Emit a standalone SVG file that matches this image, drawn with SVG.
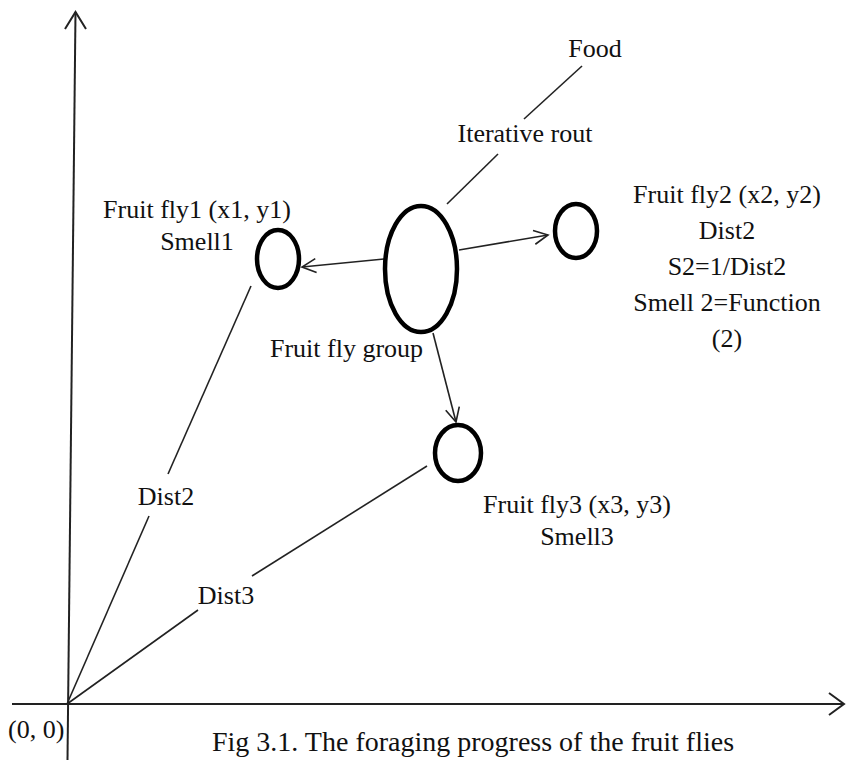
<svg xmlns="http://www.w3.org/2000/svg" width="846" height="760" viewBox="0 0 846 760">
<defs>
<style>
text{font-family:"Liberation Serif","Times New Roman",serif;font-size:26px;fill:#111}
.c{text-anchor:middle}
.ax{stroke:#222;stroke-width:2;fill:none}
.ln{stroke:#222;stroke-width:1.6;fill:none}
.node{stroke:#000;stroke-width:4.5;fill:#fff}
</style>
<marker id="arr" markerUnits="userSpaceOnUse" markerWidth="18" markerHeight="18" viewBox="0 0 18 18" refX="16" refY="9" orient="auto">
<path d="M2,2 L16,9 L2,16" fill="none" stroke="#222" stroke-width="1.6"/>
</marker>
</defs>
<rect width="846" height="760" fill="#fff"/>
<g id="axes">
<line class="ax" x1="75.5" y1="12" x2="67.5" y2="760"/>
<path class="ax" d="M65,29 L75.5,12 L86,29"/>
<line class="ax" x1="12" y1="704" x2="844" y2="704"/>
<path class="ax" d="M829,693 L844,704 L829,715"/>
<text x="8" y="738">(0, 0)</text>
</g>
<g id="connectors">
<line class="ln" x1="67" y1="704" x2="149" y2="516"/>
<line class="ln" x1="168" y1="474" x2="251" y2="286"/>
<line class="ln" x1="67" y1="704" x2="198" y2="610"/>
<line class="ln" x1="252" y1="576" x2="427" y2="466"/>
<line class="ln" x1="447" y1="204" x2="498" y2="154"/>
<line class="ln" x1="524" y1="119" x2="582" y2="66"/>
<line class="ln" x1="384" y1="259" x2="302" y2="267" marker-end="url(#arr)"/>
<line class="ln" x1="459" y1="250" x2="548" y2="235" marker-end="url(#arr)"/>
<line class="ln" x1="433" y1="333" x2="456" y2="422" marker-end="url(#arr)"/>
<text class="c" x="166" y="505">Dist2</text>
<text class="c" x="226" y="604">Dist3</text>
<text class="c" x="525" y="142">Iterative rout</text>
</g>
<g id="food"><text class="c" x="595" y="57">Food</text></g>
<g id="group">
<ellipse class="node" cx="421" cy="269" rx="36" ry="63"/>
<text x="270" y="357">Fruit fly group</text>
</g>
<g id="fly1">
<ellipse class="node" cx="278" cy="259" rx="21" ry="29"/>
<text class="c" x="197" y="218">Fruit fly1 (x1, y1)</text>
<text class="c" x="197" y="250">Smell1</text>
</g>
<g id="fly2">
<ellipse class="node" cx="576" cy="231" rx="21" ry="27"/>
<text class="c" x="727" y="203">Fruit fly2 (x2, y2)</text>
<text class="c" x="727" y="239">Dist2</text>
<text class="c" x="727" y="275">S2=1/Dist2</text>
<text class="c" x="727" y="311">Smell 2=Function</text>
<text class="c" x="727" y="347">(2)</text>
</g>
<g id="fly3">
<ellipse class="node" cx="458" cy="453" rx="23" ry="28"/>
<text class="c" x="577" y="513">Fruit fly3 (x3, y3)</text>
<text class="c" x="577" y="545">Smell3</text>
</g>
<g id="caption">
<text x="212" y="751" style="font-size:28px">Fig 3.1. The foraging progress of the fruit flies</text>
</g>
</svg>
